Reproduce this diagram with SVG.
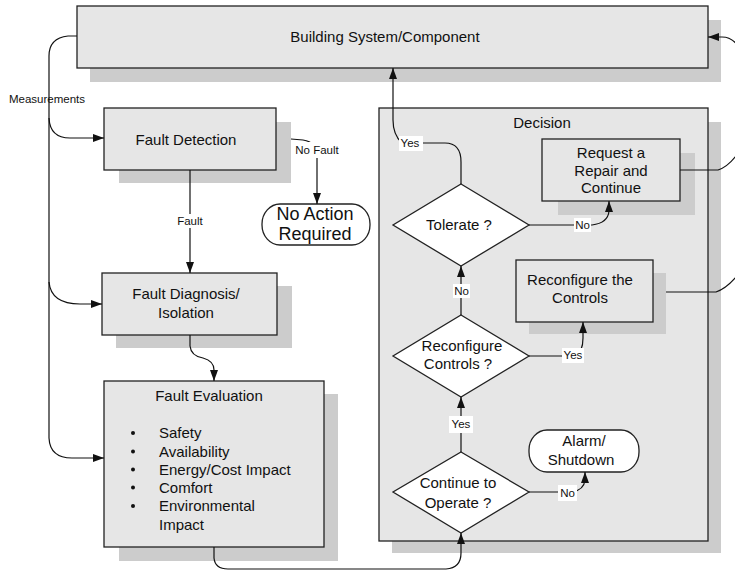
<svg xmlns="http://www.w3.org/2000/svg" width="735" height="572" viewBox="0 0 735 572">
<defs>
<marker id="arr" markerUnits="userSpaceOnUse" markerWidth="12" markerHeight="8" refX="11" refY="4" orient="auto">
<path d="M0,0 L11,4 L0,8 z" fill="#111"/>
</marker>
<style>
.box{fill:#e6e6e6;stroke:#222;stroke-width:1.3}
.sh{fill:#cccccc;stroke:none}
.dia{fill:#fff;stroke:#222;stroke-width:1.3}
.term{fill:#fff;stroke:#222;stroke-width:1.3}
.t{font-family:"Liberation Sans",Arial,sans-serif;font-size:15px;fill:#111;text-anchor:middle}
.tl{font-family:"Liberation Sans",Arial,sans-serif;font-size:15px;fill:#111}
.s{font-family:"Liberation Sans",Arial,sans-serif;font-size:11.5px;fill:#111;text-anchor:middle}
.big{font-family:"Liberation Sans",Arial,sans-serif;font-size:18px;fill:#111;text-anchor:middle}
.c{fill:none;stroke:#111;stroke-width:1.2}
.lb{fill:#fff;stroke:none}
</style>
</defs>

<g id="building">
<rect class="sh" x="90" y="20" width="631" height="62"/>
<rect class="box" x="77" y="6" width="631" height="62"/>
<text class="t" x="385" y="42">Building System/Component</text>
</g>

<g id="decision">
<rect class="sh" x="392" y="122" width="329" height="431"/>
<rect class="box" x="379" y="108" width="329" height="433"/>
<text class="t" x="542" y="128">Decision</text>
</g>

<g id="fault-detection">
<rect class="sh" x="119" y="122" width="172" height="61"/>
<rect class="box" x="104" y="108" width="172" height="62"/>
<text class="t" x="186" y="145">Fault Detection</text>
</g>

<g id="no-action">
<rect class="term" x="262" y="204" width="108" height="41" rx="18" ry="20"/>
<text class="big" x="315" y="220">No Action</text>
<text class="big" x="315" y="240">Required</text>
</g>

<g id="fault-diagnosis">
<rect class="sh" x="116" y="286" width="176" height="62"/>
<rect class="box" x="102" y="273" width="175" height="62"/>
<text class="t" x="186" y="299">Fault Diagnosis/</text>
<text class="t" x="186" y="318">Isolation</text>
</g>

<g id="fault-evaluation">
<rect class="sh" x="119" y="394" width="219" height="167"/>
<rect class="box" x="104" y="381" width="220" height="166"/>
<text class="t" x="209" y="401">Fault Evaluation</text>
<circle cx="133" cy="433" r="2" fill="#111"/>
<circle cx="133" cy="451.5" r="2" fill="#111"/>
<circle cx="133" cy="469.5" r="2" fill="#111"/>
<circle cx="133" cy="487.5" r="2" fill="#111"/>
<circle cx="133" cy="506" r="2" fill="#111"/>
<text class="tl" x="159" y="438">Safety</text>
<text class="tl" x="159" y="456.5">Availability</text>
<text class="tl" x="159" y="474.5">Energy/Cost Impact</text>
<text class="tl" x="159" y="492.5">Comfort</text>
<text class="tl" x="159" y="511">Environmental</text>
<text class="tl" x="159" y="529.5">Impact</text>
</g>

<g id="request-repair">
<rect class="sh" x="558" y="153" width="137" height="62"/>
<rect class="box" x="542" y="139" width="138" height="62"/>
<text class="t" x="611" y="158">Request a</text>
<text class="t" x="611" y="175.5">Repair and</text>
<text class="t" x="611" y="193">Continue</text>
</g>

<g id="reconfigure-the-controls">
<rect class="sh" x="529" y="273" width="137" height="61"/>
<rect class="box" x="516" y="260" width="137" height="62"/>
<text class="t" x="580" y="285">Reconfigure the</text>
<text class="t" x="580" y="303">Controls</text>
</g>

<g id="tolerate">
<polygon class="dia" points="461,184 529,225 461,266 393,225"/>
<text class="t" x="459" y="230">Tolerate  ?</text>
</g>

<g id="reconfigure-controls">
<polygon class="dia" points="461,315 529,356 461,397 393,356"/>
<text class="t" x="462" y="351">Reconfigure</text>
<text class="t" x="458" y="369">Controls  ?</text>
</g>

<g id="continue-operate">
<polygon class="dia" points="461,452 529,492 461,533 393,492"/>
<text class="t" x="458" y="488">Continue to</text>
<text class="t" x="458" y="508">Operate  ?</text>
</g>

<g id="alarm">
<rect class="term" x="529" y="430" width="110" height="42" rx="18" ry="20"/>
<text class="t" x="584" y="446">Alarm/</text>
<text class="t" x="581" y="465">Shutdown</text>
</g>

<g id="connectors">
<path class="c" d="M77 36 L68 36 Q49 38 49 56 L49 438 Q50 458 72 458 L104 458" marker-end="url(#arr)"/>
<path class="c" d="M49 118 Q50 138 70 138 L104 138" marker-end="url(#arr)"/>
<path class="c" d="M49 282 Q51 304 80 304 L102 304" marker-end="url(#arr)"/>
<path class="c" d="M190 170 L190 273" marker-end="url(#arr)"/>
<path class="c" d="M291 139 L303 140 Q317 142 317 156 L317 204" marker-end="url(#arr)"/>
<path class="c" d="M190 335 L190 346 Q191 356 203 358 Q214 361 214 370 L214 381" marker-end="url(#arr)"/>
<path class="c" d="M214 547 L214 558 Q215 569 228 569 L446 569 Q461 568 461 553 L461 533" marker-end="url(#arr)"/>
<path class="c" d="M461 452 L461 397" marker-end="url(#arr)"/>
<path class="c" d="M461 315 L461 266" marker-end="url(#arr)"/>
<path class="c" d="M461 184 L461 162 Q461 143 445 143 L402 143 Q393 135 393 120 L393 68" marker-end="url(#arr)"/>
<path class="c" d="M529 225 L592 225 Q608 223 609 211 L609 201" marker-end="url(#arr)"/>
<path class="c" d="M529 356 L575 356 Q583 352 583 338 L583 322" marker-end="url(#arr)"/>
<path class="c" d="M529 492 L572 492 Q584 490 585 480 L585 472" marker-end="url(#arr)"/>
<path class="c" d="M680 170 L718 170 Q730 166 740 150"/>
<path class="c" d="M666 292 L716 292 Q728 288 740 272"/>
<path class="c" d="M742 55 Q736 37 722 37 L708 37" marker-end="url(#arr)"/>
<rect class="lb" x="177" y="214" width="27" height="14"/>
<text class="s" x="190" y="225">Fault</text>
<rect class="lb" x="292" y="142" width="49" height="16"/>
<text class="s" x="317" y="154">No  Fault</text>
<text class="s" x="47" y="103">Measurements</text>
<rect class="lb" x="399" y="136" width="24" height="15"/>
<text class="s" x="410" y="147">Yes</text>
<rect class="lb" x="574" y="218" width="17" height="14"/>
<text class="s" x="582.5" y="229">No</text>
<rect class="lb" x="453" y="284" width="17" height="14"/>
<text class="s" x="461.5" y="295">No</text>
<rect class="lb" x="562" y="348" width="22" height="15"/>
<text class="s" x="573" y="359">Yes</text>
<rect class="lb" x="449" y="416" width="24" height="17"/>
<text class="s" x="461" y="428">Yes</text>
<rect class="lb" x="558" y="485" width="19" height="16"/>
<text class="s" x="567.5" y="497">No</text>
</g>
</svg>
